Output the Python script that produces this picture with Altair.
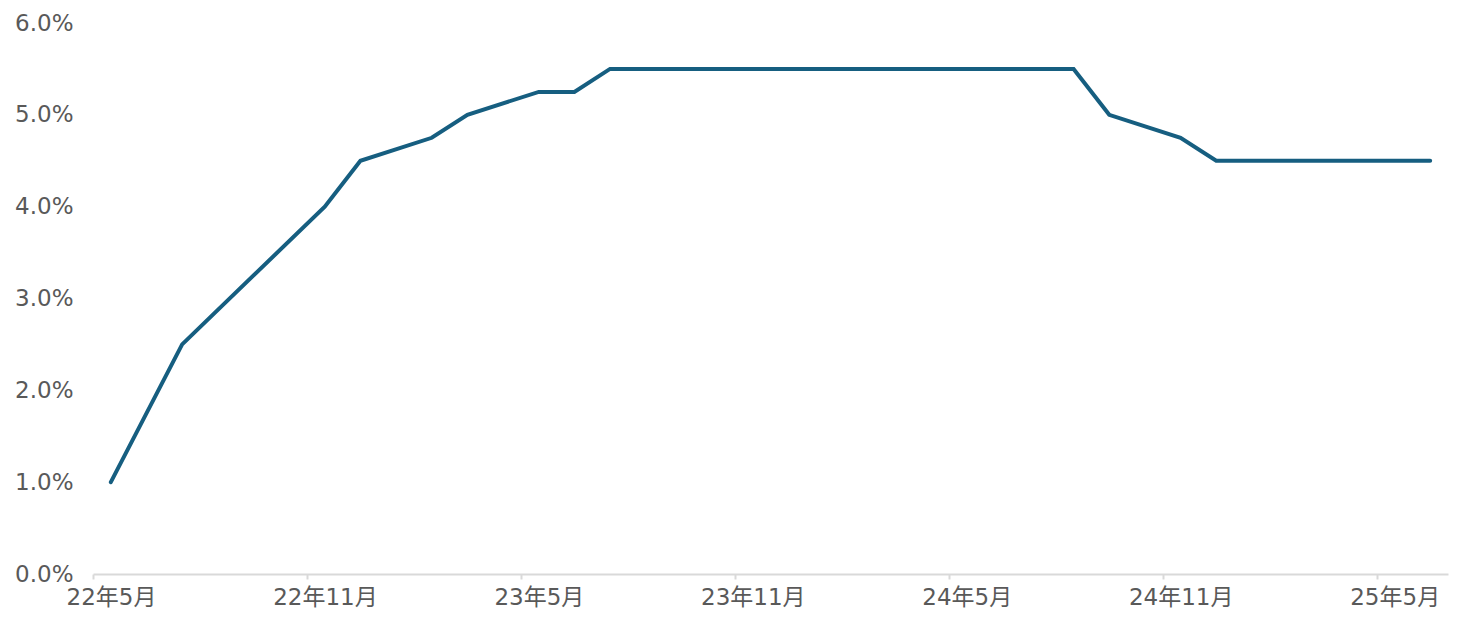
import altair as alt
import pandas as pd

# Month of each observation (vertices of the policy-rate line)
months = ["2022-05", "2022-07", "2022-11", "2022-12", "2023-02", "2023-03",
          "2023-05", "2023-06", "2023-07", "2024-08", "2024-09", "2024-11",
          "2024-12", "2025-06"]
rates = [1.0, 2.5, 4.0, 4.5, 4.75, 5.0, 5.25, 5.25, 5.5, 5.5, 5.0, 4.75, 4.5, 4.5]

tick_labels = ["22年5月", "22年11月", "23年5月", "23年11月", "24年5月", "24年11月", "25年5月"]
y_ticks = [0, 0.01, 0.02, 0.03, 0.04, 0.05, 0.06]

start = pd.Period("2022-05", freq="M")
idx = [(pd.Period(m, freq="M") - start).n + 0.5 for m in months]
df = pd.DataFrame({"m": idx, "rate": [r / 100 for r in rates], "month": months})

label_list = "[" + ",".join("'" + t + "'" for t in tick_labels) + "]"

FONT = "DejaVu Sans, Noto Sans CJK JP"
GRAY = "#595959"
FS = 23

chart = alt.Chart(df).mark_line(color="#165e80", strokeWidth=4, strokeCap="round").encode(
    x=alt.X("m:Q",
            scale=alt.Scale(domain=[0, 38], nice=False, zero=False),
            axis=alt.Axis(values=[0, 6, 12, 18, 24, 30, 36],
                          labelExpr=label_list + "[round(datum.value/6)]",
                          title=None, grid=False, domain=True, domainColor="#d9d9d9",
                          domainWidth=2, ticks=True, tickColor="#d9d9d9", tickSize=5,
                          tickWidth=2, labelOffset=18, labelPadding=7,
                          labelFont=FONT, labelFontSize=FS, labelColor=GRAY,
                          labelFlush=False, labelOverlap=False)),
    y=alt.Y("rate:Q",
            scale=alt.Scale(domain=[0, 0.06], nice=False),
            axis=alt.Axis(values=y_ticks, format=".1%", title=None, grid=False,
                          domain=False, ticks=False, labelPadding=20,
                          labelFont=FONT, labelFontSize=FS, labelColor=GRAY)),
).properties(
    width=1355, height=551,
    autosize=alt.AutoSizeParams(type="none"),
    padding={"left": 85, "top": 15, "right": 15, "bottom": 45},
).configure_view(stroke=None)

chart.save("out.html", embed_options={"renderer": "svg", "actions": False})
